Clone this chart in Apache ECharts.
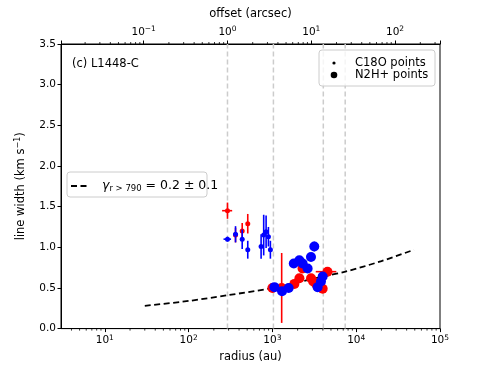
<!DOCTYPE html>
<html>
<head>
<meta charset="utf-8">
<script src="https://cdn.jsdelivr.net/npm/echarts@6/dist/echarts.min.js"></script>
<style>
  html, body { margin: 0; padding: 0; background: #fff; }
  #chart { width: 490px; height: 368px; }
</style>
</head>
<body>
<div id="chart"></div>
<script>
// C18O points (radius in au, line width in km/s, errors)
var c18oRedR = [291, 363, 436, 508];
var c18oRedV = [1.45, 1.15, 1.20, 1.29];
var c18oRedErr = [0.10, 0.09, 0.10, 0.12];
var c18oRedXerr = [40, 20, 20, 20];

var c18oBlueR = [291, 363, 436, 508, 733, 787, 841, 896, 946];
var c18oBlueV = [1.10, 1.16, 1.10, 0.97, 1.01, 1.15, 1.19, 1.13, 0.97];
var c18oBlueErr = [0.03, 0.10, 0.12, 0.11, 0.15, 0.25, 0.20, 0.12, 0.11];
var c18oBlueXerr = [30, 20, 20, 20, 20, 20, 20, 20, 20];

// N2H+ points
var n2hRedR = [1000, 1290, 1830, 2100, 2290, 2890, 3070, 3330, 3980, 4540];
var n2hRedV = [0.50, 0.50, 0.55, 0.62, 0.74, 0.62, 0.58, 0.55, 0.49, 0.70];
var n2hRedErr = [0.02, 0.43, 0.02, 0.02, 0.02, 0.02, 0.02, 0.02, 0.02, 0.02];
var n2hRedXerr = [0, 0, 0, 0, 0, 0, 0, 0, 0, 1250];

var n2hBlueR = [1057, 1303, 1563, 1800, 2096, 2296, 2632, 2886, 3162, 3466, 3800, 3980];
var n2hBlueV = [0.51, 0.46, 0.50, 0.80, 0.84, 0.80, 0.74, 0.88, 1.01, 0.51, 0.58, 0.64];
var n2hBlueErr = [0.02, 0.02, 0.02, 0.02, 0.02, 0.02, 0.02, 0.05, 0.06, 0.02, 0.02, 0.02];

// fitted power law
var fitR = [30, 100, 291, 1000, 4000, 7400, 20000, 49000];
var fitV = [0.28, 0.34, 0.41, 0.50, 0.64, 0.70, 0.83, 0.97];

// vertical reference lines (au)
var vlines = [291, 1028, 4050, 7390];

var yTicks = [0, 0.5, 1.0, 1.5, 2.0, 2.5, 3.0, 3.5];

var distPc = 291; // au per arcsec
var rMin = 3, rMax = 1e5;

function pts (r, v, e, xe) {
  return r.map(function (x, i) { return [x, v[i], e[i], xe ? xe[i] : 0]; });
}

function minorTicks (lo, hi) {
  var out = [];
  for (var k = -3; k <= 6; k++) {
    for (var m = 2; m <= 9; m++) {
      var v = m * Math.pow(10, k);
      if (v > lo && v < hi) out.push([v]);
    }
  }
  return out;
}

function errRender (size, color, lw) {
  return function (params, api) {
    var r = api.value(0), v = api.value(1), dv = api.value(2), dr = api.value(3);
    var c = api.coord([r, v]);
    var lo = api.coord([r, v - dv]);
    var hi = api.coord([r, v + dv]);
    var kids = [{
      type: 'line',
      shape: { x1: c[0], y1: lo[1], x2: c[0], y2: hi[1] },
      style: { stroke: color, lineWidth: lw }
    }];
    if (dr > 0) {
      var l = api.coord([r - dr, v]), h = api.coord([r + dr, v]);
      kids.push({
        type: 'line',
        shape: { x1: l[0], y1: c[1], x2: h[0], y2: c[1] },
        style: { stroke: color, lineWidth: lw }
      });
    }
    kids.push({ type: 'circle', shape: { cx: c[0], cy: c[1], r: size / 2 }, style: { fill: color } });
    return { type: 'group', children: kids };
  };
}

function powLabel (v) {
  var e = Math.log10(v);
  var n = Math.round(e);
  if (Math.abs(e - n) > 1e-6) return '';
  return '{b|10}{s|' + (n < 0 ? '\u2212' + (-n) : n) + '}';
}

var richPow = {
  b: { fontSize: 10.5, color: '#000', fontFamily: 'DejaVu Sans' },
  s: { fontSize: 7.5, color: '#000', fontFamily: 'DejaVu Sans', padding: [0, 0, 6, 0] }
};

var font = 'DejaVu Sans';
var chart = echarts.init(document.getElementById('chart'));

var option = {
  animation: false,
  textStyle: { fontFamily: font },
  grid: { left: 61, right: 50, top: 44, bottom: 37, show: true, borderColor: '#000', borderWidth: 1 },
  xAxis: [
    {
      type: 'log', logBase: 10, min: rMin, max: rMax, position: 'bottom',
      name: 'radius (au)', nameLocation: 'middle', nameGap: 22,
      nameTextStyle: { fontSize: 11.5, color: '#000' },
      axisLine: { lineStyle: { color: '#000', width: 1 } },
      axisTick: { length: 3.5, lineStyle: { color: '#000' } },
      axisLabel: { formatter: powLabel, rich: richPow, margin: 5, showMinLabel: false, showMaxLabel: true },
      splitLine: { show: false }
    },
    {
      type: 'log', logBase: 10, min: rMin / distPc, max: rMax / distPc, position: 'top',
      name: 'offset (arcsec)', nameLocation: 'middle', nameGap: 22,
      nameTextStyle: { fontSize: 11.5, color: '#000' },
      axisLine: { lineStyle: { color: '#000', width: 1 } },
      axisTick: { length: 3.5, lineStyle: { color: '#000' } },
      axisLabel: { formatter: powLabel, rich: richPow, margin: 5 },
      splitLine: { show: false }
    }
  ],
  yAxis: {
    type: 'value', min: 0, max: 3.5, interval: 0.5,
    name: 'line width (km s{s|\u22121})', nameLocation: 'middle', nameGap: 32,
    nameTextStyle: {
      fontSize: 11.5, color: '#000',
      rich: { s: { fontSize: 8, color: '#000', padding: [0, 0, 7, 0] } }
    },
    axisLine: { show: true, lineStyle: { color: '#000', width: 1 } },
    axisTick: { show: true, length: 3.5, lineStyle: { color: '#000' } },
    axisLabel: { fontSize: 10.5, color: '#000', margin: 5, formatter: function (v) { return v.toFixed(1); } },
    splitLine: { show: false }
  },
  series: [
    {
      type: 'custom', name: 'vlines', z: 1, silent: true,
      data: vlines.map(function (r) { return [r]; }),
      renderItem: function (params, api) {
        var a = api.coord([api.value(0), 0]);
        var b = api.coord([api.value(0), 3.5]);
        return { type: 'line', shape: { x1: a[0], y1: a[1], x2: b[0], y2: b[1] },
          style: { stroke: '#cccccc', lineWidth: 1.5, lineDash: [5, 3] } };
      }
    },
    {
      type: 'custom', name: 'minorBottom', silent: true,
      data: minorTicks(rMin, rMax),
      renderItem: function (params, api) {
        var p = api.coord([api.value(0), 0]);
        return { type: 'line', shape: { x1: p[0], y1: p[1], x2: p[0], y2: p[1] + 2 }, style: { stroke: '#000', lineWidth: 0.8 } };
      }
    },
    {
      type: 'custom', name: 'minorTop', silent: true, xAxisIndex: 1,
      data: minorTicks(rMin / distPc, rMax / distPc),
      renderItem: function (params, api) {
        var p = api.coord([api.value(0), 3.5]);
        return { type: 'line', shape: { x1: p[0], y1: p[1], x2: p[0], y2: p[1] - 2 }, style: { stroke: '#000', lineWidth: 0.8 } };
      }
    },
    {
      type: 'line', name: 'fit', z: 2, smooth: 0.3, showSymbol: false, symbol: 'none',
      data: fitR.map(function (r, i) { return [r, fitV[i]]; }),
      lineStyle: { color: '#000', width: 1.8, type: [6, 3.5] }
    },
    { type: 'custom', name: 'C18O red', z: 3, data: pts(c18oRedR, c18oRedV, c18oRedErr, c18oRedXerr), renderItem: errRender(5, '#ff0000', 1.6) },
    { type: 'custom', name: 'C18O blue', z: 3, data: pts(c18oBlueR, c18oBlueV, c18oBlueErr, c18oBlueXerr), renderItem: errRender(5, '#0000ff', 1.6) },
    { type: 'custom', name: 'N2H+ red', z: 3, data: pts(n2hRedR, n2hRedV, n2hRedErr, n2hRedXerr), renderItem: errRender(10, '#ff0000', 1.6) },
    { type: 'custom', name: 'N2H+ blue', z: 3, data: pts(n2hBlueR, n2hBlueV, n2hBlueErr), renderItem: errRender(10, '#0000ff', 1.6) }
  ],
  graphic: [
    { type: 'text', left: 72, top: 58, z: 10, style: { text: '(c) L1448-C', fontSize: 11.5, fill: '#000', fontFamily: font } },
    // legend: points
    { type: 'rect', z: 10, shape: { x: 319, y: 50, width: 116, height: 36, r: 3 },
      style: { fill: 'rgba(255,255,255,0.8)', stroke: '#cccccc', lineWidth: 1 } },
    { type: 'circle', z: 11, shape: { cx: 334, cy: 63, r: 1.6 }, style: { fill: '#000' } },
    { type: 'circle', z: 11, shape: { cx: 334, cy: 75, r: 3.3 }, style: { fill: '#000' } },
    { type: 'text', z: 11, x: 355, y: 63, style: { text: 'C18O points', fontSize: 11.5, fill: '#000', fontFamily: font, verticalAlign: 'middle' } },
    { type: 'text', z: 11, x: 355, y: 75, style: { text: 'N2H+ points', fontSize: 11.5, fill: '#000', fontFamily: font, verticalAlign: 'middle' } },
    // legend: fit
    { type: 'rect', z: 10, shape: { x: 67, y: 172, width: 140, height: 25, r: 3 },
      style: { fill: 'rgba(255,255,255,0.8)', stroke: '#cccccc', lineWidth: 1 } },
    { type: 'line', z: 11, shape: { x1: 71, y1: 186, x2: 89, y2: 186 },
      style: { stroke: '#000', lineWidth: 1.8, lineDash: [6, 3.5] } },
    { type: 'text', z: 11, x: 102, y: 186, style: {
      text: '{g|\u03b3}{sub|r > 790}{n| = 0.2 \u00b1 0.1}', verticalAlign: 'middle', fontFamily: font,
      rich: {
        g: { fontSize: 12.5, fontStyle: 'italic', fill: '#000', fontFamily: font },
        sub: { fontSize: 8.5, fill: '#000', fontFamily: font, padding: [6, 0, 0, 0] },
        n: { fontSize: 12.5, fill: '#000', fontFamily: font }
      }
    } }
  ]
};

chart.setOption(option);
</script>
</body>
</html>
